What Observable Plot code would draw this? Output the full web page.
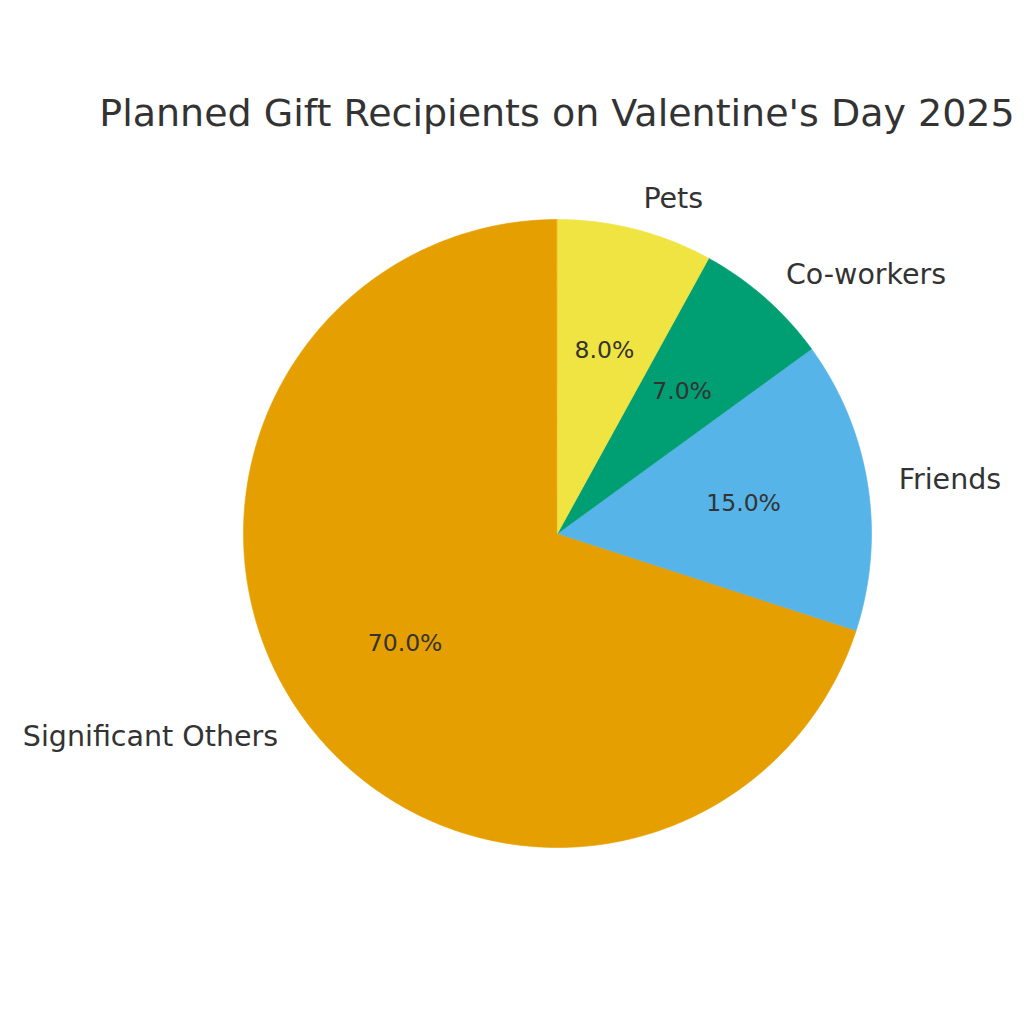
<!DOCTYPE html>
<html><head><meta charset="utf-8">
<script src="https://cdn.jsdelivr.net/npm/d3@7"></script>
<script src="https://cdn.jsdelivr.net/npm/@observablehq/plot@0.6"></script>
<style>
body{margin:0;background:#fff;font-family:"DejaVu Sans",sans-serif;}
#title{width:1024px;box-sizing:border-box;height:160px;padding-top:91px;padding-left:90px;text-align:center;font-size:38px;line-height:44px;color:#333333;white-space:nowrap;}
#chart svg{display:block;}
</style></head><body>
<div id="title">Planned Gift Recipients on Valentine's Day 2025</div>
<div id="chart"></div>
<script>
const categories = ["Significant Others", "Friends", "Co-workers", "Pets"];
const shares = [70, 15, 7, 8];
const colors = ["#E69F00", "#56B4E9", "#009E73", "#F0E442"];

// matplotlib-like pie geometry: start at 90°, counter-clockwise, unit radius
const total = d3.sum(shares);
let acc = 0;
const slices = categories.map((name, i) => {
  const a0 = 90 + acc / total * 360;
  acc += shares[i];
  const a1 = 90 + acc / total * 360;
  return {name, value: shares[i], a0, a1, mid: (a0 + a1) / 2};
});
const rad = d => d * Math.PI / 180;
const wedgePts = [];
for (const s of slices) {
  wedgePts.push({name: s.name, x: 0, y: 0});
  const n = Math.max(8, Math.ceil((s.a1 - s.a0) / 0.5));
  for (let k = 0; k <= n; k++) {
    const a = rad(s.a0 + (s.a1 - s.a0) * k / n);
    wedgePts.push({name: s.name, x: Math.cos(a), y: Math.sin(a)});
  }
}
const labels = slices.map(s => ({
  name: s.name,
  x: 1.1 * Math.cos(rad(s.mid)),
  y: 1.1 * Math.sin(rad(s.mid)),
  px: 0.6 * Math.cos(rad(s.mid)),
  py: 0.6 * Math.sin(rad(s.mid)),
  pct: d3.format(".1f")(s.value / total * 100) + "%"
}));

const W = 1024, H = 864, R = 314, CX = 557, CY = 373;
const plot = Plot.plot({
  width: W, height: H,
  margin: 0,
  style: {fontFamily: "DejaVu Sans, sans-serif", background: "white"},
  x: {domain: [-CX / R, (W - CX) / R], axis: null},
  y: {domain: [(CY - H) / R, CY / R], axis: null},
  color: {domain: categories, range: colors},
  marks: [
    Plot.line(wedgePts, {x: "x", y: "y", z: "name", fill: "name", stroke: "name", strokeWidth: 0.6, curve: "linear-closed"}),
    Plot.text(labels.filter(d => d.x >= 0), {x: "x", y: "y", text: "name", textAnchor: "start", lineAnchor: "middle", fontSize: 28.5, fill: "#333333"}),
    Plot.text(labels.filter(d => d.x < 0), {x: "x", y: "y", text: "name", textAnchor: "end", lineAnchor: "middle", fontSize: 28.5, fill: "#333333"}),
    Plot.text(labels, {x: "px", y: "py", text: "pct", textAnchor: "middle", lineAnchor: "middle", fontSize: 23.5, dy: -1, fill: "#333333"})
  ]
});
document.getElementById("chart").appendChild(plot);
</script>
</body></html>
